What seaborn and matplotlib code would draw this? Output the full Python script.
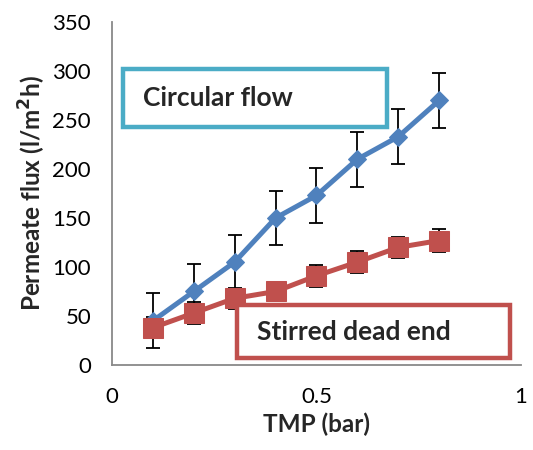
import numpy as np
import pandas as pd
import matplotlib
matplotlib.use("Agg")
import matplotlib.pyplot as plt
import matplotlib.patches as mpatches
import seaborn as sns

# data
tmp = [0.1, 0.2, 0.3, 0.4, 0.5, 0.6, 0.7, 0.8]
circ_flux = [45, 75, 105, 150, 173, 210, 233, 270]
circ_err = [28, 28, 28, 28, 28, 28, 28, 28]
stir_flux = [38, 53, 68, 75, 91, 105, 120, 127]
stir_err = [11, 11, 11, 10, 11, 11, 11, 12]
y_ticks = [0, 50, 100, 150, 200, 250, 300, 350]
x_ticks = [0, 0.5, 1]

BLUE = "#4F81BD"
RED = "#C0504D"
TEAL = "#4BACC6"
GREY = "#898989"

sns.set_theme(style="white")
plt.rcParams["font.family"] = ["Lato", "DejaVu Sans"]

df = pd.DataFrame({
    "TMP": tmp * 2,
    "flux": circ_flux + stir_flux,
    "err": circ_err + stir_err,
    "mode": ["Circular flow"] * len(tmp) + ["Stirred dead end"] * len(tmp),
})

fig = plt.figure(figsize=(5.33, 4.5), dpi=100)
ax = fig.add_axes([0.21, 0.189, 0.7675, 0.762])

for mode, color, marker, ms in [("Circular flow", BLUE, "D", 9.5),
                                ("Stirred dead end", RED, "s", 14)]:
    sub = df[df["mode"] == mode]
    ax.errorbar(sub["TMP"], sub["flux"], yerr=sub["err"], fmt="none",
                ecolor="black", elinewidth=1.3, capsize=5, capthick=1.3, zorder=2)
    sns.lineplot(data=sub, x="TMP", y="flux", color=color, lw=3.6,
                 marker=marker, markersize=ms, markeredgecolor=color,
                 ax=ax, zorder=3)

ax.set_xlim(0, 1)
ax.set_ylim(0, 350)
ax.set_xticks(x_ticks)
ax.set_xticklabels(["0", "0.5", "1"])
ax.set_yticks(y_ticks)
ax.tick_params(axis="both", direction="out", length=6, width=1.2, color=GREY,
               labelsize=16, labelcolor="black")
ax.tick_params(axis="x", pad=10)
ax.tick_params(axis="y", pad=9)
for side in ["top", "right"]:
    ax.spines[side].set_visible(False)
for side in ["left", "bottom"]:
    ax.spines[side].set_color(GREY)
    ax.spines[side].set_linewidth(1.3)

ax.set_xlabel("TMP (bar)", fontsize=17.5, fontweight="bold", labelpad=4)
ax.set_ylabel("Permeate flux (l/m$^{\\mathbf{2}}$h)", fontsize=17.5,
              fontweight="bold", labelpad=3)

# annotation boxes (figure pixel coords, top-origin converted)
W, H = 533, 450


def label_box(x0, y0, x1, y1, color, text, tx):
    rect = mpatches.Rectangle((x0 / W, 1 - y1 / H), (x1 - x0) / W, (y1 - y0) / H,
                              transform=fig.transFigure, fill=True,
                              facecolor="white", edgecolor=color, lw=3.2,
                              zorder=5)
    fig.patches.append(rect)
    fig.text(tx / W, 1 - (y0 + y1) / 2 / H, text, fontsize=19,
             fontweight="bold", ha="left", va="center", zorder=6)


label_box(123, 69, 387, 127, TEAL, "Circular flow", 143)
label_box(237, 305, 510, 358, RED, "Stirred dead end", 257)

fig.savefig("out.png", dpi=100)
